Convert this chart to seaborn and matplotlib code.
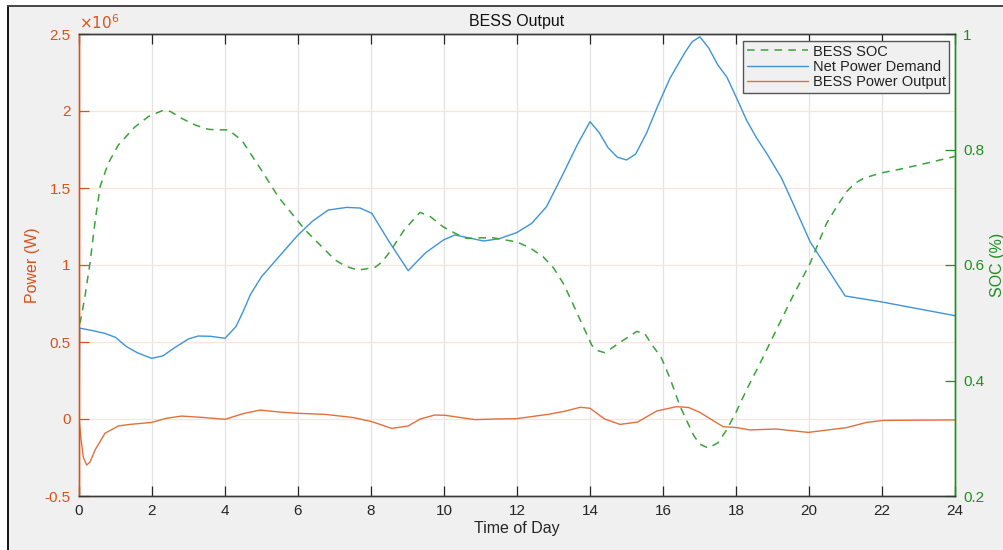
import numpy as np
import pandas as pd
import seaborn as sns
import matplotlib
matplotlib.use("Agg")
import matplotlib.pyplot as plt
from matplotlib.patches import Rectangle
from matplotlib.ticker import FuncFormatter, FixedLocator

# Net power demand (W) over the day
demand_hours = [0.0, 0.02, 0.35, 0.71, 1.0, 1.3, 1.6, 1.99, 2.3, 2.6, 3.0, 3.27, 3.6,
                4.0, 4.3, 4.5, 4.7, 5.0, 5.5, 6.0, 6.4, 6.83, 7.33, 7.7, 8.02, 8.5,
                9.02, 9.25, 9.5, 9.98, 10.3, 10.6, 11.08, 11.5, 11.99, 12.4, 12.81,
                13.27, 13.65, 14.0, 14.25, 14.5, 14.75, 15.0, 15.25, 15.55, 15.85,
                16.19, 16.6, 16.8, 17.01, 17.25, 17.5, 17.75, 18.02, 18.29, 18.55,
                18.84, 19.25, 19.6, 20.03, 20.99, 21.95, 24.0]
demand_w = [0, 590000, 575000, 556000, 530000, 470000, 430000, 394000, 410000,
            460000, 520000, 539000, 537000, 524000, 600000, 700000, 810000, 924000,
            1060000, 1195000, 1285000, 1357000, 1374000, 1370000, 1336000, 1150000,
            963000, 1020000, 1080000, 1162000, 1195000, 1180000, 1156000, 1170000,
            1210000, 1270000, 1379000, 1595000, 1780000, 1931000, 1860000, 1760000,
            1700000, 1682000, 1720000, 1857000, 2030000, 2212000, 2380000, 2450000,
            2482000, 2410000, 2300000, 2220000, 2082000, 1940000, 1830000, 1725000,
            1563000, 1380000, 1151000, 799000, 762000, 671000]

# Battery state of charge (fraction)
soc_hours = [0.0, 0.03, 0.15, 0.3, 0.45, 0.58, 0.8, 1.08, 1.53, 1.9, 2.27, 2.5, 2.81,
             3.2, 3.54, 3.8, 4.09, 4.46, 5.0, 5.46, 6.19, 7.01, 7.3, 7.65, 8.11, 8.3,
             8.52, 8.9, 9.34, 9.6, 9.98, 10.3, 10.62, 11.0, 11.35, 11.99, 12.35,
             12.72, 13.0, 13.27, 13.5, 13.73, 14.05, 14.2, 14.41, 14.8, 15.28, 15.5,
             15.73, 15.95, 16.19, 16.47, 16.83, 17.0, 17.24, 17.5, 17.74, 18.0, 18.29,
             18.7, 19.1, 19.55, 20.03, 20.25, 20.48, 20.75, 21.03, 21.25, 21.49,
             21.95, 22.5, 23.2, 24.0]
soc = [0.5, 0.5, 0.54, 0.603, 0.68, 0.736, 0.776, 0.808, 0.839, 0.857, 0.867, 0.866,
       0.854, 0.842, 0.835, 0.834, 0.834, 0.816, 0.764, 0.718, 0.661, 0.609, 0.598,
       0.591, 0.596, 0.605, 0.623, 0.66, 0.691, 0.685, 0.666, 0.655, 0.646, 0.647,
       0.647, 0.64, 0.63, 0.614, 0.595, 0.568, 0.537, 0.505, 0.461, 0.452, 0.448,
       0.465, 0.485, 0.481, 0.459, 0.44, 0.404, 0.355, 0.306, 0.29, 0.283, 0.292,
       0.314, 0.345, 0.384, 0.435, 0.487, 0.545, 0.603, 0.637, 0.672, 0.70, 0.727,
       0.741, 0.75, 0.759, 0.766, 0.776, 0.788]

# Battery power output (W)
bess_hours = [0.0, 0.05, 0.12, 0.21, 0.3, 0.44, 0.71, 1.08, 1.4, 1.72, 1.99, 2.4,
              2.81, 3.4, 4.0, 4.5, 4.96, 5.5, 6.0, 6.74, 7.5, 8.02, 8.57, 9.02, 9.35,
              9.75, 10.03, 10.85, 11.4, 11.99, 12.9, 13.3, 13.73, 14.0, 14.4, 14.82,
              15.3, 15.83, 16.37, 16.7, 17.01, 17.3, 17.65, 18.02, 18.38, 19.1,
              19.98, 21.03, 21.58, 22.04, 24.0]
bess_w = [0, -120000, -250000, -299000, -280000, -201000, -93000, -45000, -35000,
          -28000, -22000, 5000, 19000, 10000, -2000, 35000, 58000, 45000, 37000,
          30000, 10000, -17000, -61000, -45000, 0, 26000, 24000, -4000, 0, 2000,
          32000, 50000, 76000, 70000, 0, -35000, -20000, 52000, 80000, 75000, 43000,
          0, -50000, -56000, -71000, -65000, -87000, -56000, -22000, -9000, -6000]

x_ticks = list(range(0, 25, 2))
power_ticks = [-500000, 0, 500000, 1000000, 1500000, 2000000, 2500000]
soc_ticks = [0.2, 0.4, 0.6, 0.8, 1.0]

sns.set_theme(style="white")
plt.rcParams["font.family"] = ["Liberation Sans", "DejaVu Sans"]

C_ORANGE = "#D95319"
C_BLUE = "#3d94d9"
C_GREEN = "#3aa33a"
C_GREEN_AX = "#1f8f1f"
C_DARK = "#262626"

fig = plt.figure(figsize=(10.04, 5.5), dpi=100, facecolor="white")
# window panel with a dark frame along top and left
fig.patches.append(Rectangle((8 / 1004, 0), 1.0, (550 - 6) / 550, transform=fig.transFigure,
                             facecolor="#f0f0f0", edgecolor="none", zorder=-10))
fig.lines.append(plt.Line2D([8 / 1004, 8 / 1004], [0, 1 - 6 / 550], transform=fig.transFigure,
                            color="#111111", lw=1.4, zorder=-5))
fig.lines.append(plt.Line2D([8 / 1004, 1.0], [1 - 6 / 550, 1 - 6 / 550], transform=fig.transFigure,
                            color="#444444", lw=1.4, zorder=-5))

ax = fig.add_axes([79 / 1004, 54 / 550, (955 - 79) / 1004, (496 - 34) / 550])
ax.set_facecolor("white")
ax2 = ax.twinx()

demand_df = pd.DataFrame({"hour": demand_hours, "power": demand_w})
bess_df = pd.DataFrame({"hour": bess_hours, "power": bess_w})
soc_df = pd.DataFrame({"hour": soc_hours, "soc": soc})

sns.lineplot(data=demand_df, x="hour", y="power", ax=ax, color=C_BLUE, lw=1.0,
             label="Net Power Demand", legend=False)
sns.lineplot(data=bess_df, x="hour", y="power", ax=ax, color="#e36f3d", lw=1.0,
             label="BESS Power Output", legend=False)
sns.lineplot(data=soc_df, x="hour", y="soc", ax=ax2, color=C_GREEN, lw=1.1,
             label="BESS SOC", legend=False)
ax2.lines[0].set_linestyle((0, (5, 4)))
for ln in ax.lines + ax2.lines:
    ln.set_solid_joinstyle("round")
    ln.set_dash_joinstyle("round")

ax.set_xlim(0, 24)
ax.set_ylim(-500000, 2500000)
ax2.set_ylim(0.2, 1.0)

ax.xaxis.set_major_locator(FixedLocator(x_ticks))
ax.yaxis.set_major_locator(FixedLocator(power_ticks))
ax2.yaxis.set_major_locator(FixedLocator(soc_ticks))
ax.yaxis.set_major_formatter(FuncFormatter(lambda v, p: f"{v / 1e6:g}"))
ax2.yaxis.set_major_formatter(FuncFormatter(lambda v, p: f"{v:g}"))

# grid: grey verticals, pale orange horizontals
for xv in x_ticks[1:-1]:
    ax.axvline(xv, color="#e3e3e3", lw=0.9, zorder=0)
for yv in power_ticks[1:-1]:
    ax.axhline(yv, color="#fbe3d9", lw=0.9, zorder=0)

ax.tick_params(axis="x", direction="in", length=7, width=0.9, colors=C_DARK,
               labelsize=11, top=True, bottom=True, pad=6)
ax.tick_params(axis="y", direction="in", length=7, width=0.9, colors=C_ORANGE,
               labelsize=11, pad=6)
ax2.tick_params(axis="y", direction="in", length=7, width=0.9, colors=C_GREEN_AX,
                labelsize=11, pad=6)

for a in (ax, ax2):
    for s in a.spines.values():
        s.set_linewidth(1.0)
    a.spines["top"].set_color("#3a3a3a")
    a.spines["bottom"].set_color("#3a3a3a")
    a.spines["left"].set_color(C_ORANGE)
    a.spines["right"].set_color(C_GREEN_AX)

ax.set_xlabel("Time of Day", fontsize=11.5, color=C_DARK, labelpad=2)
ax.set_ylabel("Power (W)", fontsize=11.5, color=C_ORANGE, labelpad=3)
ax2.set_ylabel("SOC (%)", fontsize=11.5, color=C_GREEN_AX, labelpad=4)
ax.set_title("BESS Output", fontsize=11.5, color="#111111", pad=6)
ax.text(0.0, 1.004, r"$\times10^{6}$", transform=ax.transAxes, color=C_ORANGE,
        fontsize=11, ha="left", va="bottom")

handles = [ax2.lines[0], ax.lines[0], ax.lines[1]]
labels = ["BESS SOC", "Net Power Demand", "BESS Power Output"]
leg = ax2.legend(handles, labels, loc="upper right", bbox_to_anchor=(0.9935, 0.985),
                 fontsize=10.5, frameon=True, fancybox=False, framealpha=1,
                 facecolor="#f0f0f0", edgecolor="#555555", handlelength=4.2,
                 handletextpad=0.3, borderpad=0.25, labelspacing=0.1, borderaxespad=0)
leg.get_frame().set_linewidth(1.0)
for t in leg.get_texts():
    t.set_color("#222222")

fig.savefig("out.png", dpi=100, facecolor=fig.get_facecolor())
